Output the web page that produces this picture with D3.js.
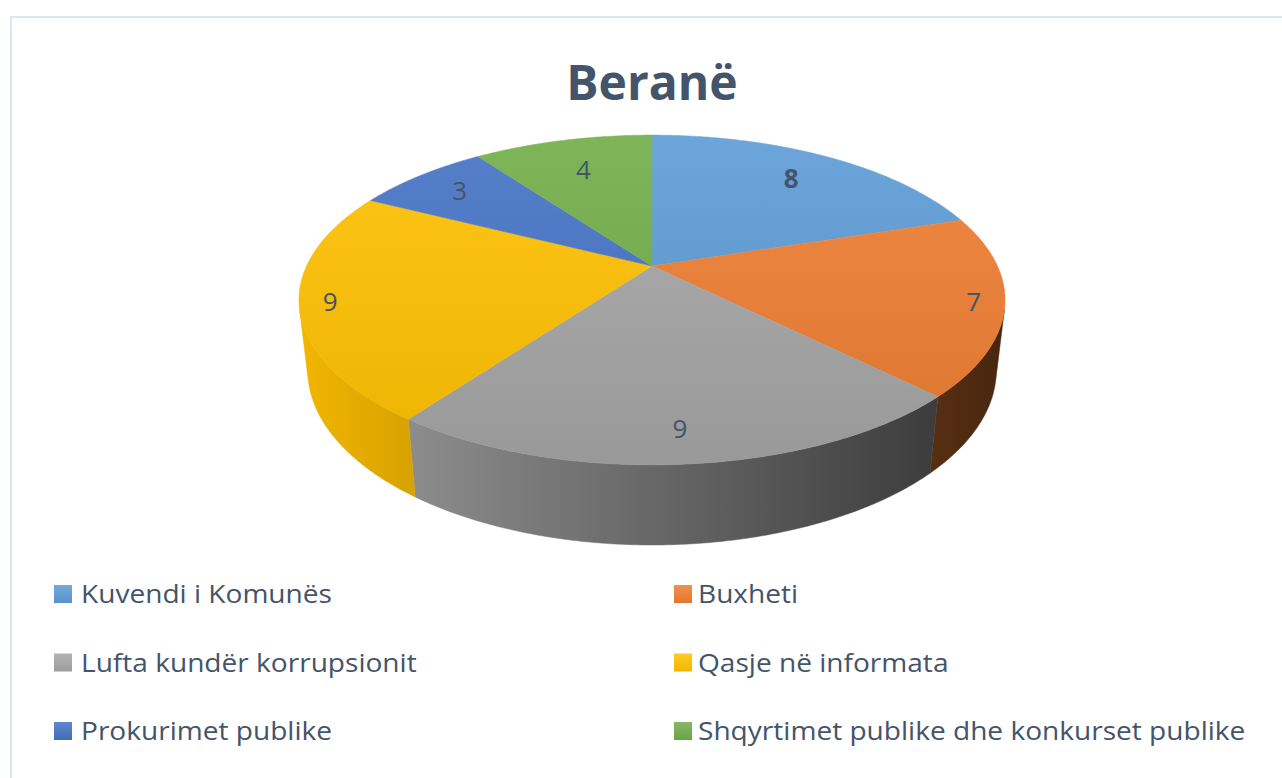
<!DOCTYPE html>
<html>
  <head>
    <meta charset="utf-8">
    <title>Beranë</title>
    <script src="https://d3js.org/d3.v7.min.js"></script>
    <style>
      body { margin: 0; background: #fff; }
      text { font-family: "Open Sans", Lato, sans-serif; fill: #44546A; }
    </style>
  </head>
  <body>
    <div id="chart"></div>
    <script>
      // Chart data
      var categories = ["Kuvendi i Komunës", "Buxheti", "Lufta kundër korrupsionit",
                        "Qasje në informata", "Prokurimet publike",
                        "Shqyrtimet publike dhe konkurset publike"];
      var values = [8, 7, 9, 9, 3, 4];
      var colors = ["#5B9BD5", "#ED7D31", "#A5A5A5", "#FFC000", "#4472C4", "#70AD47"];
      var title = "Beranë";
      var boldLabel = 0;

      var width = 1282, height = 778;

      var svg = d3.select("#chart")
                  .append("svg")
                  .attr("width", width)
                  .attr("height", height);

      // chart area border
      svg.append("rect")
         .attr("x", 11).attr("y", 17)
         .attr("width", 1300).attr("height", 800)
         .attr("fill", "none")
         .attr("stroke", "#dfe5ee")
         .attr("stroke-width", 2);

      svg.append("text")
         .attr("x", 652).attr("y", 100)
         .attr("text-anchor", "middle")
         .style("font-size", "48px")
         .style("font-weight", "bold")
         .text(title);

      // perspective projection of the pie disk
      var cx = 652, cy = 266, F = 1491, D = 4.316, H = 0.229;
      var tilt = 27.2 * Math.PI / 180, sinT = Math.sin(tilt), cosT = Math.cos(tilt);

      function proj(a, r, h) {
        var X = r * Math.sin(a), Z = r * Math.cos(a);
        var depth = D + Z * cosT - h * sinT;
        var vy = Z * sinT + h * cosT;
        return [cx + F * X / depth, cy - F * vy / depth];
      }

      function arcPoints(a0, a1, r, h) {
        var n = Math.max(2, Math.ceil(Math.abs(a1 - a0) / (Math.PI / 360)));
        return d3.range(n + 1).map(function(i) { return proj(a0 + (a1 - a0) * i / n, r, h); });
      }

      var line = d3.line().curve(d3.curveLinearClosed);
      var pie = d3.pie().sort(null).value(function(d) { return d; });
      var arcs = pie(values);

      // gradients
      var defs = svg.append("defs");
      colors.forEach(function(c, i) {
        var g = defs.append("linearGradient").attr("id", "top" + i)
                    .attr("gradientUnits", "userSpaceOnUse")
                    .attr("x1", 0).attr("y1", 135).attr("x2", 0).attr("y2", 465);
        g.append("stop").attr("offset", 0).attr("stop-color", d3.interpolateRgb(c, "#fff")(0.1));
        g.append("stop").attr("offset", 1).attr("stop-color", d3.interpolateRgb(c, "#000")(0.07));

        var w = defs.append("linearGradient").attr("id", "wall" + i)
                    .attr("gradientUnits", "userSpaceOnUse")
                    .attr("x1", 299).attr("y1", 0).attr("x2", 1006).attr("y2", 0);
        w.append("stop").attr("offset", 0).attr("stop-color", d3.interpolateRgb("#000", c)(0.95));
        w.append("stop").attr("offset", 1).attr("stop-color", d3.interpolateRgb("#000", c)(0.3));

        var k = defs.append("linearGradient").attr("id", "key" + i)
                    .attr("x1", 0).attr("y1", 0).attr("x2", 0).attr("y2", 1);
        k.append("stop").attr("offset", 0).attr("stop-color", d3.interpolateRgb(c, "#fff")(0.15));
        k.append("stop").attr("offset", 1).attr("stop-color", d3.interpolateRgb(c, "#000")(0.05));
      });

      // side walls, only the part facing the viewer
      var aVis = Math.acos(-1 / (D * cosT));
      arcs.forEach(function(d, i) {
        var s = Math.max(d.startAngle, aVis), e = Math.min(d.endAngle, 2 * Math.PI - aVis);
        if (e <= s) return;
        var pts = arcPoints(s, e, 1, 0).concat(arcPoints(e, s, 1, -H));
        svg.append("path")
           .attr("d", line(pts))
           .attr("fill", "url(#wall" + i + ")")
           .attr("stroke", "url(#wall" + i + ")")
           .attr("stroke-width", 0.5);
      });

      // top faces
      arcs.forEach(function(d, i) {
        var pts = [proj(0, 0, 0)].concat(arcPoints(d.startAngle, d.endAngle, 1, 0));
        svg.append("path")
           .attr("d", line(pts))
           .attr("fill", "url(#top" + i + ")")
           .attr("stroke", "url(#top" + i + ")")
           .attr("stroke-width", 0.5);
      });

      // data labels
      arcs.forEach(function(d, i) {
        var mid = (d.startAngle + d.endAngle) / 2, c = Math.cos(mid);
        var r = 0.8 + 0.11 * Math.pow(Math.sin(mid), 2) - 0.08 * Math.max(c, 0) + 0.05 * Math.max(-c, 0);
        var p = proj(mid, r, 0);
        svg.append("text")
           .attr("x", p[0]).attr("y", p[1])
           .attr("dy", "0.36em")
           .attr("text-anchor", "middle")
           .style("font-size", "26px")
           .style("font-weight", i === boldLabel ? "bold" : "normal")
           .text(d.data);
      });

      // legend, two columns (text stretched a little to match the source's wide face)
      var legend = svg.append("g");
      categories.forEach(function(name, i) {
        var col = i % 2, row = Math.floor(i / 2);
        var x = col === 0 ? 54 : 674, y = 585 + row * 68.5;
        var g = legend.append("g").attr("transform", "translate(" + x + "," + y + ")");
        g.append("rect").attr("width", 18).attr("height", 18).attr("fill", "url(#key" + i + ")");
        g.append("text")
         .attr("transform", "translate(" + (col === 0 ? 27 : 24) + ",18) scale(1.08,1)")
         .style("font-size", "26px")
         .text(name);
      });
    </script>
  </body>
</html>
